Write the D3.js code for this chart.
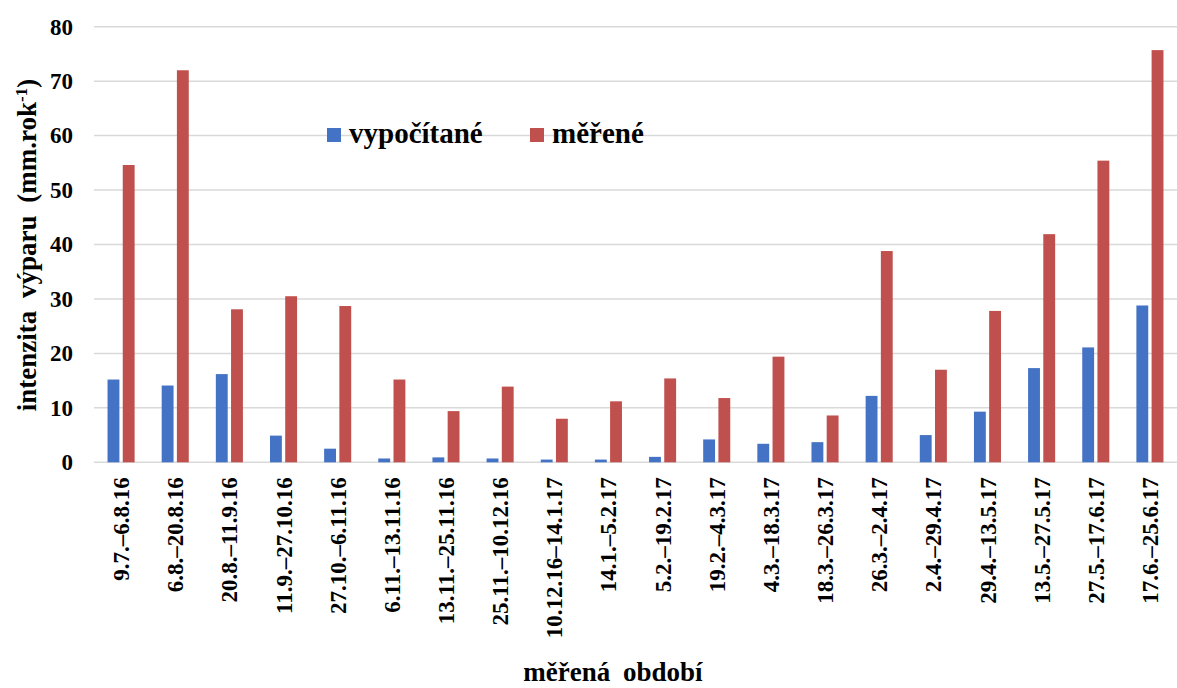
<!DOCTYPE html>
<html>
<head>
<meta charset="utf-8">
<script src="https://cdn.jsdelivr.net/npm/d3@7"></script>
<style>
  html, body { margin: 0; padding: 0; background: #fff; }
  svg { display: block; }
  text { font-family: "Liberation Serif", "Times New Roman", serif; font-weight: bold; fill: #000; }
</style>
</head>
<body>
<svg id="chart" width="1177" height="688"></svg>
<script>
const categories = ["9.7.–6.8.16","6.8.–20.8.16","20.8.–11.9.16","11.9.–27.10.16","27.10.–6.11.16","6.11.–13.11.16","13.11.–25.11.16","25.11.–10.12.16","10.12.16–14.1.17","14.1.–5.2.17","5.2.–19.2.17","19.2.–4.3.17","4.3.–18.3.17","18.3.–26.3.17","26.3.–2.4.17","2.4.–29.4.17","29.4.–13.5.17","13.5.–27.5.17","27.5.–17.6.17","17.6.–25.6.17"];
const seriesNames = ["vypočítané", "měřené"];
const vypocitane = [15.2,14.1,16.2,4.9,2.5,0.7,0.9,0.7,0.5,0.5,1.0,4.2,3.4,3.7,12.2,5.0,9.3,17.3,21.1,28.8];
const merene = [54.6,72.0,28.1,30.5,28.7,15.2,9.4,13.9,8.0,11.2,15.4,11.8,19.4,8.6,38.8,17.0,27.8,41.9,55.4,75.7];
const yTicks = [0,10,20,30,40,50,60,70,80];
const colors = ["#4472C4", "#C0504D"];

const svg = d3.select("#chart");
const plotLeft = 94, plotRight = 1177, plotTop = 26.7, plotBottom = 462.3;

const x0 = d3.scaleBand().domain(categories).range([plotLeft, plotRight]).paddingInner(0.5).paddingOuter(0.25);
const x1 = d3.scaleBand().domain(seriesNames).range([0, x0.bandwidth()]).paddingInner(0.22);
const y = d3.scaleLinear().domain([0, 80]).range([plotBottom, plotTop]);

// gridlines
svg.append("g").selectAll("line").data(yTicks).join("line")
  .attr("x1", plotLeft).attr("x2", plotRight)
  .attr("y1", d => y(d)).attr("y2", d => y(d))
  .attr("stroke", "#d9d9d9").attr("stroke-width", 1.5);

// y axis labels
const yAxis = d3.axisLeft(y).tickValues(yTicks).tickSize(0).tickPadding(0);
const yg = svg.append("g").attr("transform", `translate(73,0)`).call(yAxis);
yg.select(".domain").remove();
yg.selectAll("text").style("font-size", "23px").style("font-family", '"Liberation Serif", serif').style("font-weight", "bold").attr("fill", "#000");

// bars
const data = categories.map((c, i) => ({ c, vals: [vypocitane[i], merene[i]] }));
const groups = svg.append("g").selectAll("g").data(data).join("g")
  .attr("transform", d => `translate(${x0(d.c)},0)`);
groups.selectAll("rect").data(d => d.vals.map((v, j) => ({ s: seriesNames[j], v, j }))).join("rect")
  .attr("x", d => x1(d.s))
  .attr("width", x1.bandwidth())
  .attr("y", d => y(d.v))
  .attr("height", d => y(0) - y(d.v))
  .attr("fill", d => colors[d.j]);

// x axis labels
const xAxis = d3.axisBottom(x0).tickSize(0).tickPadding(0);
const xg = svg.append("g").attr("transform", `translate(0,${plotBottom})`).call(xAxis);
xg.select(".domain").remove();
xg.selectAll("text")
  .attr("transform", "rotate(-90)")
  .attr("x", -15).attr("y", 0).attr("dy", "0.35em")
  .attr("text-anchor", "end")
  .style("font-size", "23px").style("font-family", '"Liberation Serif", serif').style("font-weight", "bold").attr("fill", "#000");

// y title
const yt = svg.append("text")
  .attr("transform", "translate(36,245) rotate(-90)")
  .attr("text-anchor", "middle")
  .style("font-size", "27px").style("word-spacing", "6px");
yt.append("tspan").text("intenzita výparu (mm.rok");
yt.append("tspan").attr("baseline-shift", "super").style("font-size", "17px").text("-1");
yt.append("tspan").text(")");

// x title
svg.append("text").attr("x", 613).attr("y", 681).attr("text-anchor", "middle")
  .style("font-size", "27px").style("word-spacing", "6px").text("měřená období");

// legend
const legX = [327, 530];
seriesNames.forEach((s, i) => {
  svg.append("rect").attr("x", legX[i]).attr("y", 128).attr("width", 14).attr("height", 14).attr("fill", colors[i]);
  svg.append("text").attr("x", legX[i] + 22).attr("y", 143).style("font-size", "29px").text(s);
});
</script>
</body>
</html>
